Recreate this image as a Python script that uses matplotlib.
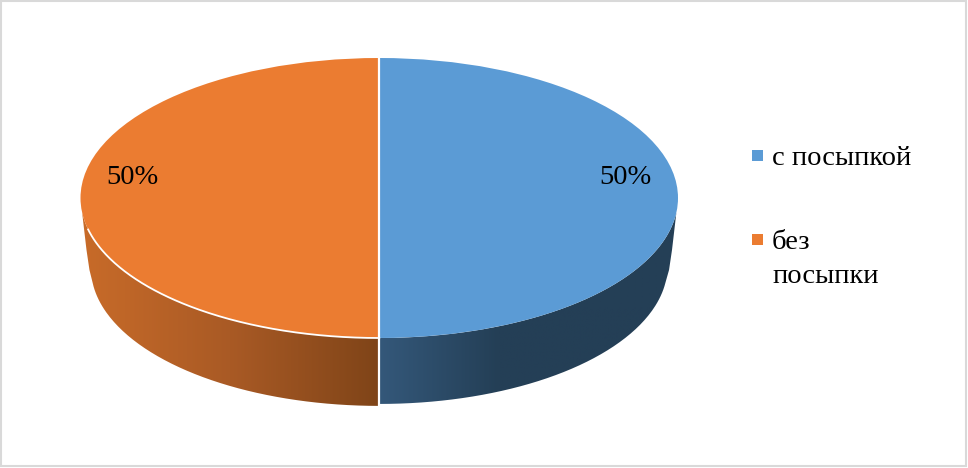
import numpy as np
import matplotlib
matplotlib.use('Agg')
import matplotlib.pyplot as plt
from matplotlib.patches import PathPatch, Rectangle
from matplotlib.path import Path
from matplotlib.colors import LinearSegmentedColormap

plt.rcParams['font.family'] = ['Liberation Serif', 'DejaVu Serif']

# data
labels = ['с посыпкой', 'без\nпосыпки']
values = [50, 50]
pct_labels = ['50%', '50%']
top_colors = ['#5B9BD5', '#EB7C31']
side_colors = [['#34587A', '#243F56'], ['#C86B29', '#A95A25', '#7F4418']]

W, H = 968, 468
fig = plt.figure(figsize=(W / 100, H / 100), dpi=100, facecolor='white')

# pixel overlay for frame, legend and labels
bg = fig.add_axes([0, 0, 1, 1], zorder=3)
bg.set_xlim(0, W)
bg.set_ylim(H, 0)
bg.axis('off')
bg.patch.set_alpha(0)
bg.add_patch(Rectangle((1, 1), W - 3, H - 3, fill=False, ec='#D9D9D9', lw=1.5))

# axes runs past the top face of the pie so the side is not clipped
left, right, top, bottom = 80.5, 678, 58, 338
extra = 82
ax = fig.add_axes([left / W, 1 - (bottom + extra) / H, (right - left) / W, (bottom + extra - top) / H])
ylow = -1 - extra / ((bottom - top) / 2)

wedges, _ = ax.pie(values, startangle=90, counterclock=False, colors=top_colors,
                   radius=1, wedgeprops={'edgecolor': 'none'})
for w in wedges:
    w.set_zorder(5)

depth_cy = -0.5
low_rx = 0.965
low_ry = 0.985
edge_start = np.radians(96)  # rim angle where the side becomes visible
low_start = np.radians(97)
# the outer edge of the side is not quite an ellipse near the rim
shoulder_x = np.array([0.97, 0.98])
shoulder_y = np.array([-0.514, -0.37])

fracs = np.cumsum([0] + values) / sum(values)
for i in range(len(values)):
    a0, a1 = fracs[i] * 2 * np.pi, fracs[i + 1] * 2 * np.pi
    ta = np.linspace(max(a0, edge_start), min(a1, 2 * np.pi - edge_start), 120)
    tb = np.linspace(max(a0, low_start), min(a1, 2 * np.pi - low_start), 120)
    drop = 0.014 if i == 0 else 0.0  # blue side ends a bit higher
    low_x = low_rx * np.sin(tb[::-1])
    low_y = depth_cy + drop + low_ry * np.cos(tb[::-1])
    if i == 0:
        xs = np.r_[np.sin(ta), low_x, shoulder_x]
        ys = np.r_[np.cos(ta), low_y, shoulder_y]
    else:
        xs = np.r_[np.sin(ta), -shoulder_x[::-1], low_x]
        ys = np.r_[np.cos(ta), shoulder_y[::-1], low_y]
    poly = PathPatch(Path(np.c_[xs, ys]), fc='none', ec='none')
    ax.add_patch(poly)
    cmap = LinearSegmentedColormap.from_list('side%d' % i, side_colors[i])
    grad = np.linspace(0, 1, 256).reshape(1, -1)
    if i == 0:
        # blue goes flat after about 40% of the half width
        im = ax.imshow(np.clip(grad / 0.4, 0, 1), extent=[0, 1, ylow, 0], aspect='auto',
                       cmap=cmap, zorder=2, vmin=0, vmax=1)
    else:
        im = ax.imshow(grad, extent=[-1, 0, ylow, 0], aspect='auto',
                       cmap=cmap, zorder=2, vmin=0, vmax=1)
    im.set_clip_path(poly)

# white rim under the orange slice and the white slice divider
t = np.linspace(np.pi, 2 * np.pi - np.radians(103), 200)
ax.plot(np.sin(t), np.cos(t), color='white', lw=1.3, zorder=6)
ax.plot([0, 0], [1, ylow], color='white', lw=1.6, zorder=7, solid_capstyle='butt')

ax.set_aspect('auto')
ax.set_xlim(-1, 1)
ax.set_ylim(ylow, 1)
ax.axis('off')

# percent labels
pct_pos = [(625.5, 184), (132.5, 184)]
for (px, py), s in zip(pct_pos, pct_labels):
    bg.text(px, py, s, fontsize=20.5, ha='center', va='baseline', color='black')

# legend
leg_y = [165, 249]
for i, s in enumerate(labels):
    bg.add_patch(Rectangle((752, leg_y[i] - 15), 11, 11, fc=top_colors[i], ec='none'))
    for j, part in enumerate(s.split('\n')):
        bg.text(772, leg_y[i] + 34 * j, part, fontsize=20.5, ha='left', va='baseline', color='black')

fig.savefig('out.png', dpi=100)
